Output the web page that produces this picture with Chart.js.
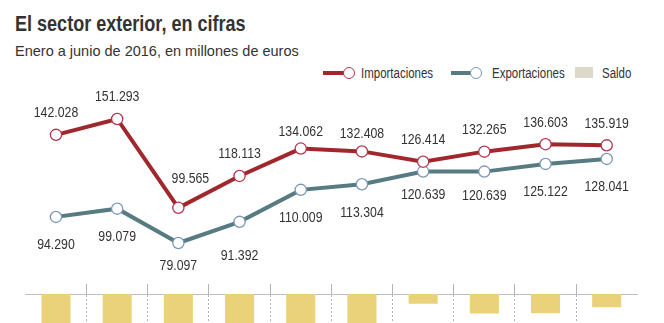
<!DOCTYPE html>
<html lang="es">
<head>
<meta charset="utf-8">
<title>El sector exterior, en cifras</title>
<script src="https://cdn.jsdelivr.net/npm/chart.js@4/dist/chart.umd.min.js"></script>
<style>
  html, body { margin: 0; padding: 0; background: #fff; }
  body { width: 664px; height: 323px; position: relative; overflow: hidden; font-family: "Liberation Sans", Arial, sans-serif; }
  /* condensed look: regular sans squeezed horizontally */
  .narrow { transform: scaleX(0.82); transform-origin: 0 0; }
  #title { position: absolute; left: 15px; top: 13px; font-size: 22px; line-height: 22px; font-weight: bold; color: #333; white-space: nowrap; }
  #subtitle { position: absolute; left: 15px; top: 44px; font-size: 14.5px; line-height: 14.5px; color: #333; white-space: nowrap; }
  .leg-text { position: absolute; top: 65.5px; font-size: 14px; line-height: 14px; color: #333; white-space: nowrap; }
  .leg-line { position: absolute; top: 71px; height: 4px; }
  .leg-dot { position: absolute; top: 67px; width: 12px; height: 12px; box-sizing: border-box; border-radius: 50%; background: #fff; }
  .leg-box { position: absolute; left: 575px; top: 67px; width: 18px; height: 11px; background: #dcd9cb; }
  canvas { position: absolute; left: 0; top: 0; }
</style>
</head>
<body>
<div id="title" class="narrow">El sector exterior, en cifras</div>
<div id="subtitle">Enero a junio de 2016, en millones de euros</div>

<div class="leg-line" style="left:323px;width:24px;background:#a0282c"></div>
<div class="leg-dot" style="left:343px;border:1.3px solid #b3354a"></div>
<div class="leg-text narrow" style="left:361px">Importaciones</div>
<div class="leg-line" style="left:451px;width:22px;background:#577b82"></div>
<div class="leg-dot" style="left:470px;border:1.3px solid #7c97b6"></div>
<div class="leg-text narrow" style="left:491.5px">Exportaciones</div>
<div class="leg-box"></div>
<div class="leg-text narrow" style="left:601.5px">Saldo</div>

<canvas id="lines" width="664" height="323"></canvas>
<canvas id="balance" width="664" height="323"></canvas>

<script>
// January–June totals per year, millions of euros
const years = ['2007', '2008', '2009', '2010', '2011', '2012', '2013', '2014', '2015', '2016'];
const importaciones = [142028, 151293, 99565, 118113, 134062, 132408, 126414, 132265, 136603, 135919];
const exportaciones = [94290, 99079, 79097, 91392, 110009, 113304, 120639, 120639, 125122, 128041];
// trade balance = exports - imports
const saldo = exportaciones.map((v, i) => v - importaciones[i]);

const COLOR_IMP = '#a0282c';
const COLOR_EXP = '#577b82';
const COLOR_SALDO = '#e9d27a';
const LABEL_FONT = '15px "Liberation Sans", Arial, sans-serif';
const LABEL_SQUEEZE = 0.82;

// Spanish thousands separator: 142028 -> "142.028"
function fmt(v) {
  return String(Math.round(v)).replace(/\B(?=(\d{3})+(?!\d))/g, '.');
}

// Writes each point's value above (imports) or below (exports) its marker
const valueLabels = {
  id: 'valueLabels',
  afterDatasetsDraw(chart) {
    const ctx = chart.ctx;
    chart.data.datasets.forEach((ds, di) => {
      const meta = chart.getDatasetMeta(di);
      const dy = ds.labelOffset;
      const nudge = ds.labelNudge || {};
      meta.data.forEach((pt, i) => {
        const [nx, ny] = nudge[i] || [0, 0];
        ctx.save();
        ctx.font = LABEL_FONT;
        ctx.fillStyle = '#333';
        ctx.textAlign = 'center';
        ctx.textBaseline = 'alphabetic';
        // dy is the distance to the text's cap-height centre
        ctx.translate(pt.x + nx, pt.y + dy + ny + 5.4);
        ctx.scale(LABEL_SQUEEZE, 1);
        ctx.fillText(fmt(ds.data[i]), 0, 0);
        ctx.restore();
      });
    });
  }
};

const sidePad = { left: 25.4, right: 26.7 };

new Chart(document.getElementById('lines'), {
  type: 'line',
  data: {
    labels: years,
    datasets: [
      {
        label: 'Importaciones',
        data: importaciones,
        borderColor: COLOR_IMP,
        borderWidth: 4,
        pointRadius: 5.6,
        pointBackgroundColor: '#fff',
        pointBorderColor: '#b3354a',
        pointBorderWidth: 1.3,
        tension: 0,
        clip: false,
        labelOffset: -23,
        // keep the 2009 label clear of the falling line
        labelNudge: { 2: [12, -7], 4: [0, 5], 5: [0, 4] }
      },
      {
        label: 'Exportaciones',
        data: exportaciones,
        borderColor: COLOR_EXP,
        borderWidth: 4,
        pointRadius: 5.6,
        pointBackgroundColor: '#fff',
        pointBorderColor: '#7c97b6',
        pointBorderWidth: 1.3,
        tension: 0,
        clip: false,
        labelOffset: 27,
        labelNudge: { 2: [0, -5], 3: [0, 6], 6: [0, -5], 7: [0, -4] }
      }
    ]
  },
  options: {
    responsive: false,
    animation: false,
    events: [],
    layout: { padding: { left: sidePad.left, right: sidePad.right, top: 104, bottom: 64.4 } },
    plugins: { legend: { display: false }, tooltip: { enabled: false } },
    scales: {
      x: { type: 'category', offset: true, display: false },
      y: { min: 70000, max: 160000, display: false }
    }
  },
  plugins: [valueLabels]
});

new Chart(document.getElementById('balance'), {
  type: 'bar',
  data: {
    labels: years,
    datasets: [{
      label: 'Saldo',
      data: saldo,
      backgroundColor: COLOR_SALDO,
      borderWidth: 0,
      categoryPercentage: 1,
      barPercentage: 0.475
    }]
  },
  options: {
    responsive: false,
    animation: false,
    events: [],
    layout: { padding: { left: sidePad.left, right: sidePad.right, top: 284, bottom: 0 } },
    plugins: { legend: { display: false }, tooltip: { enabled: false } },
    scales: {
      x: {
        type: 'category',
        position: 'top',
        offset: true,
        ticks: { display: false },
        grid: {
          offset: true,
          // separators only between categories, none at the outer edges
          color: (c) => (c.type === 'tick' && c.index > 0) ? '#b4b4b4' : 'rgba(0,0,0,0)',
          lineWidth: 1,
          drawTicks: true,
          tickLength: 10,
          borderDash: [2, 2],
          tickBorderDash: [1, 0]
        },
        border: { display: true, color: '#bdbdbd', width: 1, dash: [2, 2] }
      },
      y: { min: -17300, max: 0, display: false }
    }
  }
});
</script>
</body>
</html>
